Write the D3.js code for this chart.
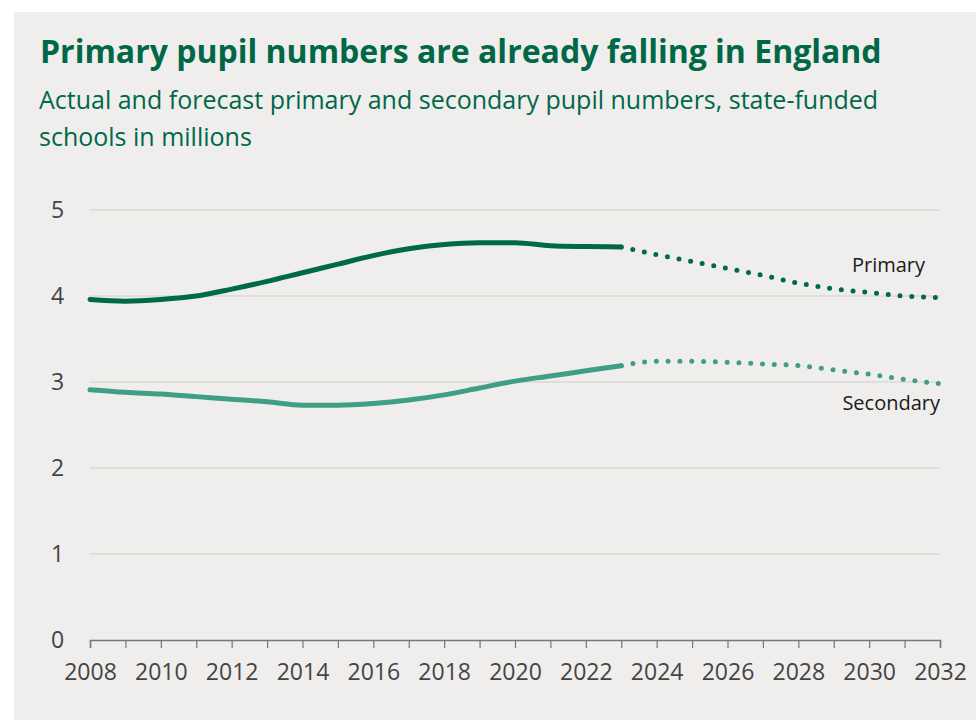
<!DOCTYPE html>
<html>
<head>
<meta charset="utf-8">
<script src="https://cdn.jsdelivr.net/npm/d3@7"></script>
<style>
  body { margin: 0; background: #fff; }
  svg { display: block; }
</style>
</head>
<body>
<div id="chart-area"></div>
<script>

// Data
var years = d3.range(2008, 2033);
var actualYears = d3.range(2008, 2024);
var forecastYears = d3.range(2023, 2033);

var primaryActual = [3.96, 3.94, 3.96, 4.00, 4.08, 4.17, 4.27, 4.37, 4.47, 4.55, 4.60, 4.62, 4.62, 4.585, 4.575, 4.57];
var primaryForecast = [4.57, 4.48, 4.40, 4.32, 4.24, 4.15, 4.085, 4.04, 4.00, 3.98];

var secondaryActual = [2.91, 2.88, 2.86, 2.83, 2.80, 2.77, 2.73, 2.73, 2.75, 2.79, 2.85, 2.93, 3.01, 3.07, 3.13, 3.19];
var secondaryForecast = [3.19, 3.24, 3.24, 3.23, 3.21, 3.19, 3.14, 3.09, 3.03, 2.98];

var yTicks = [0, 1, 2, 3, 4, 5];
var xLabelYears = d3.range(2008, 2033, 2);

var title = "Primary pupil numbers are already falling in England";
var subtitle = ["Actual and forecast primary and secondary pupil numbers, state-funded", "schools in millions"];

var primaryColor = "#00694a";
var secondaryColor = "#3f9e86";

// SVG drawing area
var W = 976, H = 720;
var margin = {top: 210, right: 36, bottom: 80, left: 90};
var width = W - margin.left - margin.right,
    height = H - margin.top - margin.bottom;

var svg = d3.select("#chart-area").append("svg")
    .attr("width", W)
    .attr("height", H);

svg.append("rect")
    .attr("x", 14).attr("y", 12)
    .attr("width", W - 14).attr("height", H - 12)
    .attr("fill", "#efeeec");

svg.append("text")
    .attr("x", 40).attr("y", 63)
    .attr("font-family", "'Open Sans', sans-serif")
    .attr("font-weight", 700)
    .attr("font-size", 32)
    .attr("fill", "#006747")
    .text(title);

svg.selectAll(".subtitle").data(subtitle).enter().append("text")
    .attr("class", "subtitle")
    .attr("x", 39)
    .attr("y", function(d, i) { return 109 + i * 37; })
    .attr("font-family", "'Open Sans', sans-serif")
    .attr("font-size", 25)
    .attr("fill", "#00674a")
    .text(function(d) { return d; });

var group = svg.append("g")
    .attr("transform", "translate(" + margin.left + "," + margin.top + ")");

// Scales
var x = d3.scaleLinear().domain([2008, 2032]).range([0, width]);
var y = d3.scaleLinear().domain([0, 5]).range([height, 0]);

// Gridlines
group.selectAll(".grid").data(yTicks.filter(function(d) { return d > 0; }))
  .enter().append("line")
    .attr("class", "grid")
    .attr("x1", 0).attr("x2", width)
    .attr("y1", function(d) { return y(d); })
    .attr("y2", function(d) { return y(d); })
    .attr("stroke", "#d9d8d6")
    .attr("stroke-width", 1.5);

// Y labels
group.selectAll(".ylab").data(yTicks).enter().append("text")
    .attr("class", "ylab")
    .attr("x", -39)
    .attr("y", function(d) { return y(d) + 8; })
    .attr("font-family", "'Open Sans', sans-serif")
    .attr("font-size", 23)
    .attr("fill", "#444")
    .text(function(d) { return d; });

// X axis
var xAxis = d3.axisBottom(x)
    .tickValues(years)
    .tickSize(8)
    .tickFormat(function(d) { return xLabelYears.indexOf(d) >= 0 ? d : ""; });

var xg = group.append("g")
    .attr("class", "axis x-axis")
    .attr("transform", "translate(0," + height + ")")
    .call(xAxis);
xg.select(".domain").attr("stroke", "#777").attr("stroke-width", 1.5);
xg.selectAll(".tick line").attr("stroke", "#777").attr("stroke-width", 1.2);
xg.selectAll(".tick text")
    .attr("dy", 0)
    .attr("y", 40)
    .attr("font-family", "'Open Sans', sans-serif")
    .attr("font-size", 23)
    .attr("fill", "#444");

// Lines
var line = d3.line()
    .x(function(d) { return x(d[0]); })
    .y(function(d) { return y(d[1]); })
    .curve(d3.curveMonotoneX);

function pairs(ys, vals) { return ys.map(function(d, i) { return [d, vals[i]]; }); }

var series = [
  {actual: pairs(actualYears, primaryActual), forecast: pairs(forecastYears, primaryForecast), color: primaryColor},
  {actual: pairs(actualYears, secondaryActual), forecast: pairs(forecastYears, secondaryForecast), color: secondaryColor}
];

series.forEach(function(s) {
  group.append("path")
      .datum(s.forecast)
      .attr("d", line)
      .attr("fill", "none")
      .attr("stroke", s.color)
      .attr("stroke-width", 5)
      .attr("stroke-linecap", "round")
      .attr("stroke-dasharray", "0 11.8");
  group.append("path")
      .datum(s.actual)
      .attr("d", line)
      .attr("fill", "none")
      .attr("stroke", s.color)
      .attr("stroke-width", 5)
      .attr("stroke-linecap", "round");
});

// Labels
group.append("text")
    .attr("x", x(2032) - 15).attr("y", y(4.28))
    .attr("text-anchor", "end")
    .attr("font-family", "'Open Sans', sans-serif")
    .attr("font-size", 20)
    .attr("fill", "#1a1a1a")
    .text("Primary");

group.append("text")
    .attr("x", x(2032)).attr("y", y(2.68))
    .attr("text-anchor", "end")
    .attr("font-family", "'Open Sans', sans-serif")
    .attr("font-size", 20)
    .attr("fill", "#1a1a1a")
    .text("Secondary");

</script>
</body>
</html>
